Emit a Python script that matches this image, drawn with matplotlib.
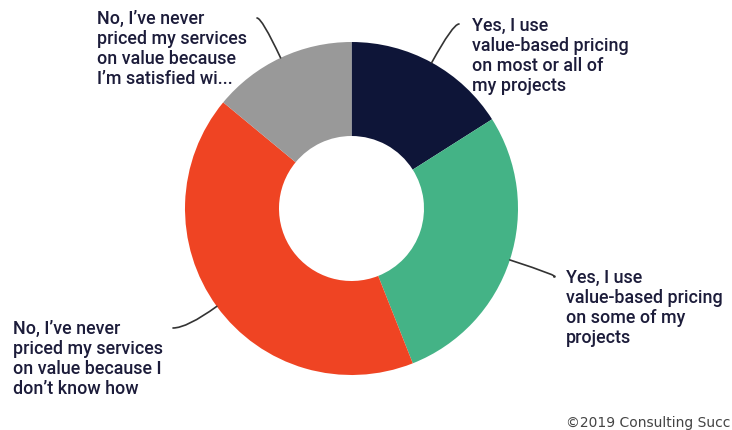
import matplotlib.pyplot as plt
import numpy as np

# share of respondents per answer, clockwise from 12 o'clock
answers = [
    "Yes, I use\nvalue-based pricing\non most or all of\nmy projects",
    "Yes, I use\nvalue-based pricing\non some of my\nprojects",
    "No, I\u2019ve never\npriced my services\non value because I\ndon\u2019t know how",
    "No, I\u2019ve never\npriced my services\non value because\nI\u2019m satisfied wi...",
]
shares = [16, 28, 42, 14]
colors = ["#0e1538", "#44b386", "#ef4423", "#999999"]
credit = "\u00a92019 Consulting Succ"

W, H = 732, 430
text_color = "#1c1c3a"
font = "Roboto"

fig = plt.figure(figsize=(W / 100, H / 100), dpi=100)
ax = fig.add_axes([0, 0, 1, 1])

cx, cy = 351.5, H - 208.5
r_out, r_in = 166.5, 72.5
wedges, _ = ax.pie(shares, colors=colors, startangle=90, counterclock=False,
                   center=(cx, cy), radius=r_out,
                   wedgeprops=dict(width=r_out - r_in, linewidth=0))
ax.set_xlim(0, W)
ax.set_ylim(0, H)
ax.set_aspect("equal")
ax.axis("off")

# label block (left x, top y in px from top) and leader end (px from top)
label_pos = [(472, 17), (566, 269), (13, 320), (97, 10)]
leader_end = [(459, 24), (554, 277), (173, 328), (257, 18)]

for w, txt, (lx, ly), (ex, ey) in zip(wedges, answers, label_pos, leader_end):
    mid = np.deg2rad((w.theta1 + w.theta2) / 2)
    px = cx + r_out * np.cos(mid)
    py = cy + r_out * np.sin(mid)
    ax.annotate("", xy=(px, py), xytext=(ex, H - ey),
                arrowprops=dict(arrowstyle="-", color="#333333", lw=1.2,
                                shrinkA=0, shrinkB=0,
                                connectionstyle="angle3,angleA=0,angleB=%.1f" % np.rad2deg(mid)))
    ax.text(lx, H - ly, txt, ha="left", va="top", fontsize=12.9,
            family=font, weight="medium", color=text_color, linespacing=1.15)

ax.text(730, H - 416, credit, ha="right", va="top",
        fontsize=10, family="DejaVu Sans", color="#444444")

fig.savefig("out.png", dpi=100)
